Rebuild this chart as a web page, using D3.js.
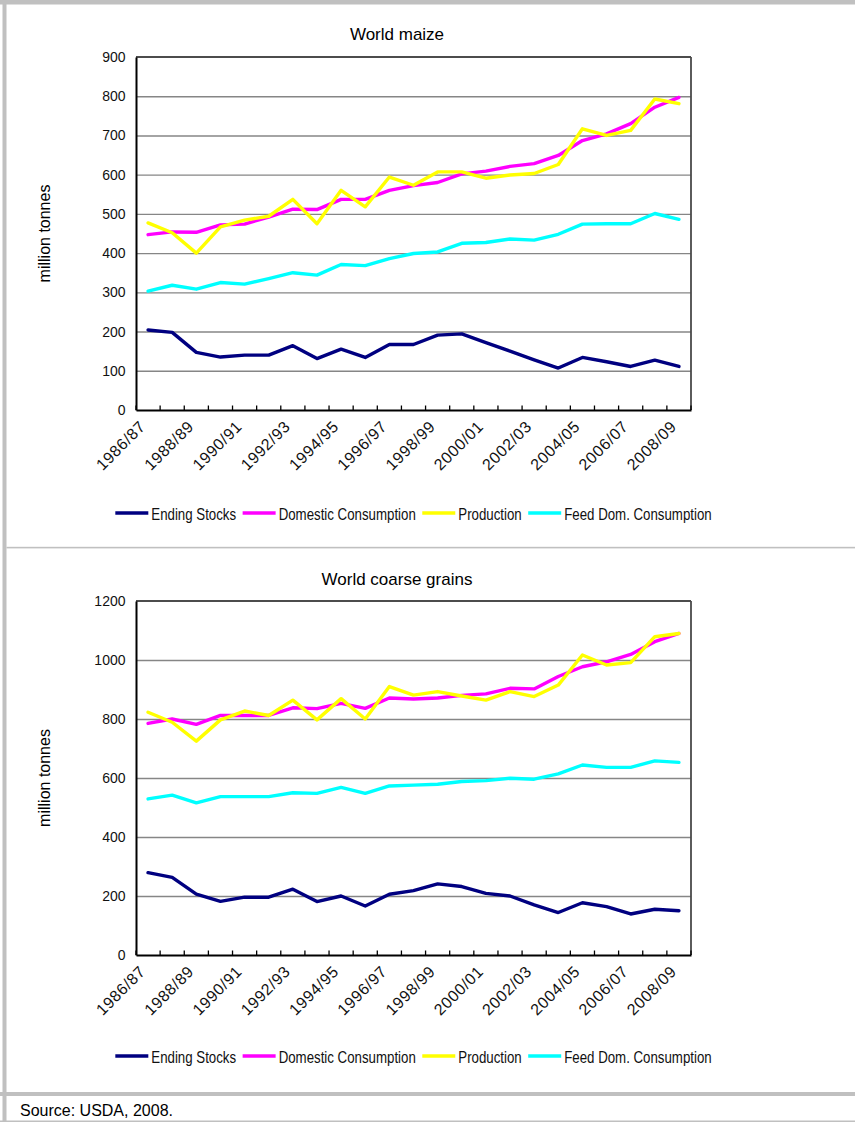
<!DOCTYPE html>
<html>
<head>
<meta charset="utf-8">
<script src="https://cdn.jsdelivr.net/npm/d3@7"></script>
<style>
  body { margin: 0; background: #fff; }
  svg { display: block; }
</style>
</head>
<body>
<svg id="fig" width="855" height="1122"></svg>
<script>
// Marketing years shown on the x axis
const seasons = [
  "1986/87","1987/88","1988/89","1989/90","1990/91","1991/92","1992/93","1993/94",
  "1994/95","1995/96","1996/97","1997/98","1998/99","1999/00","2000/01","2001/02",
  "2002/03","2003/04","2004/05","2005/06","2006/07","2007/08","2008/09"
];
const xTickLabels = seasons.filter((d, i) => i % 2 === 0);

const seriesNames = ["Ending Stocks", "Domestic Consumption", "Production", "Feed Dom. Consumption"];
const seriesColors = ["#000080", "#ff00ff", "#ffff00", "#00ffff"];

// World maize, million tonnes
const maizeEndingStocks = [204, 198, 147, 135, 140, 140, 164, 131, 155, 134, 167, 167, 191, 194, 172, 150, 128, 107, 134, 123, 111, 127, 111];
const maizeDomestic     = [447, 454, 453, 472, 474, 492, 512, 511, 537, 537, 560, 572, 580, 602, 609, 621, 628, 649, 687, 704, 730, 772, 797];
const maizeProduction   = [477, 452, 400, 467, 484, 494, 537, 475, 560, 518, 594, 573, 607, 607, 591, 599, 603, 626, 717, 700, 713, 793, 781];
const maizeFeed         = [303, 318, 308, 325, 321, 335, 350, 344, 371, 368, 386, 399, 403, 425, 427, 436, 433, 448, 474, 475, 475, 501, 486];
const maizeYTicks = [0, 100, 200, 300, 400, 500, 600, 700, 800, 900];

// World coarse grains, million tonnes
const coarseEndingStocks = [279, 263, 206, 182, 196, 196, 223, 181, 200, 166, 206, 218, 241, 232, 209, 200, 170, 144, 177, 164, 139, 155, 150];
const coarseDomestic     = [785, 800, 782, 812, 812, 812, 838, 835, 853, 836, 871, 868, 871, 880, 885, 904, 902, 944, 977, 994, 1019, 1062, 1090];
const coarseProduction   = [823, 789, 725, 797, 827, 812, 864, 797, 869, 800, 910, 881, 893, 878, 864, 893, 876, 915, 1017, 983, 991, 1079, 1090];
const coarseFeed         = [529, 542, 516, 537, 537, 537, 550, 548, 568, 548, 573, 576, 579, 588, 591, 599, 596, 614, 644, 636, 636, 658, 653];
const coarseYTicks = [0, 200, 400, 600, 800, 1000, 1200];

const svg = d3.select("#fig");
const W = 855, H = 1122;
const FRAME = "#c0c0c0";
const SANS = "'Liberation Sans',Arial,sans-serif";
const LEGEND_SQUEEZE = 0.83; // condensed legend lettering

svg.append("rect").attr("width", W).attr("height", H).attr("fill", "#fff");

// Page frame
svg.append("rect").attr("x", 0).attr("y", 0).attr("width", W).attr("height", 4.5).attr("fill", FRAME);
svg.append("rect").attr("x", 2.5).attr("y", 0).attr("width", 4).attr("height", H).attr("fill", FRAME);
svg.append("rect").attr("x", 6.5).attr("y", 546.8).attr("width", W).attr("height", 1.6).attr("fill", FRAME);
svg.append("rect").attr("x", 0).attr("y", 1092).attr("width", W).attr("height", 4).attr("fill", FRAME);
svg.append("rect").attr("x", 0).attr("y", 1120.5).attr("width", W).attr("height", 1.5).attr("fill", FRAME);

svg.append("text")
  .attr("x", 20).attr("y", 1116)
  .attr("font-family", SANS).attr("font-size", 16)
  .text("Source: USDA, 2008.");

function drawPanel(cfg) {
  const left = 136, right = 691;
  const g = svg.append("g");

  const x = d3.scaleBand().domain(seasons).range([left, right]).padding(0);
  const y = d3.scaleLinear().domain([0, cfg.yMax]).range([cfg.bottom, cfg.top]);
  const cx = d => x(d) + x.bandwidth() / 2;

  // Title
  g.append("text")
    .attr("x", 397).attr("y", cfg.titleY)
    .attr("text-anchor", "middle")
    .attr("font-family", SANS).attr("font-size", 17)
    .text(cfg.title);

  // Horizontal gridlines
  const grid = g.append("g")
    .attr("transform", `translate(${left},0)`)
    .call(d3.axisLeft(y)
      .tickValues(cfg.yTicks.filter(t => t > 0 && t < cfg.yMax))
      .tickSize(-(right - left))
      .tickFormat(""));
  grid.select(".domain").remove();
  grid.selectAll(".tick line").attr("stroke", "#868686").attr("stroke-width", 1.4);

  // Plot area border (top and right)
  g.append("line").attr("x1", left).attr("x2", right).attr("y1", cfg.top).attr("y2", cfg.top)
    .attr("stroke", "#111").attr("stroke-width", 1.6);
  g.append("line").attr("x1", right).attr("x2", right).attr("y1", cfg.top).attr("y2", cfg.bottom)
    .attr("stroke", "#4a4a4a").attr("stroke-width", 1.8);

  // Series lines
  const line = d3.line().x((d, i) => cx(seasons[i])).y(d => y(d));
  cfg.series.forEach((vals, k) => {
    g.append("path")
      .datum(vals)
      .attr("fill", "none")
      .attr("stroke", seriesColors[k])
      .attr("stroke-width", 3.4)
      .attr("stroke-linejoin", "round")
      .attr("stroke-linecap", "round")
      .attr("d", line);
  });

  // Y axis
  const yAxis = g.append("g")
    .attr("transform", `translate(${left},0)`)
    .call(d3.axisLeft(y).tickValues(cfg.yTicks).tickSize(0).tickPadding(10.5).tickFormat(d3.format("d")));
  yAxis.select(".domain").attr("stroke", "#000").attr("stroke-width", 2);
  yAxis.selectAll(".tick text")
    .attr("font-family", SANS).attr("font-size", 14).attr("fill", "#111");

  // X axis: baseline, category boundary ticks and rotated labels
  const xAxis = g.append("g")
    .attr("transform", `translate(0,${cfg.bottom})`)
    .call(d3.axisBottom(x).tickValues(xTickLabels).tickSize(0).tickFormat(""));
  xAxis.select(".domain").attr("stroke", "#000").attr("stroke-width", 2);

  const bounds = seasons.map(s => x(s)).concat([right]);
  g.append("g").selectAll("line").data(bounds).join("line")
    .attr("x1", d => d).attr("x2", d => d)
    .attr("y1", cfg.bottom).attr("y2", cfg.bottom - 4.5)
    .attr("stroke", "#000").attr("stroke-width", 1.3);

  xAxis.selectAll(".tick").each(function (d) {
    d3.select(this).select("text").remove();
    d3.select(this).append("text")
      .attr("transform", `translate(${-1.5},17.5) rotate(-45)`)
      .attr("text-anchor", "end")
      .attr("font-family", SANS).attr("font-size", 16)
      .attr("letter-spacing", 0.6)
      .attr("fill", "#111")
      .text(d);
  });

  // Y axis title
  g.append("text")
    .attr("transform", `translate(49.5,${(cfg.top + cfg.bottom) / 2}) rotate(-90)`)
    .attr("text-anchor", "middle")
    .attr("font-family", SANS).attr("font-size", 16)
    .text("million tonnes");

  // Legend
  const leg = g.append("g");
  let pos = 0;
  seriesNames.forEach((name, k) => {
    const item = leg.append("g").attr("transform", `translate(${pos},0)`);
    item.append("line")
      .attr("x1", 0).attr("x2", 33).attr("y1", 0).attr("y2", 0)
      .attr("stroke", seriesColors[k]).attr("stroke-width", 3.4);
    const t = item.append("text")
      .attr("transform", `translate(36,7) scale(${LEGEND_SQUEEZE},1)`)
      .attr("font-family", SANS).attr("font-size", 16)
      .attr("fill", "#111")
      .text(name);
    pos += 36 + t.node().getComputedTextLength() * LEGEND_SQUEEZE + 6.5;
  });
  const legW = pos - 6.5;
  leg.attr("transform", `translate(${(left + right) / 2 - legW / 2},${cfg.legendY})`);
}

drawPanel({
  title: "World maize", titleY: 40,
  top: 57, bottom: 410, yMax: 900, yTicks: maizeYTicks,
  legendY: 513,
  series: [maizeEndingStocks, maizeDomestic, maizeProduction, maizeFeed]
});

drawPanel({
  title: "World coarse grains", titleY: 585,
  top: 601, bottom: 955, yMax: 1200, yTicks: coarseYTicks,
  legendY: 1056,
  series: [coarseEndingStocks, coarseDomestic, coarseProduction, coarseFeed]
});
</script>
</body>
</html>
